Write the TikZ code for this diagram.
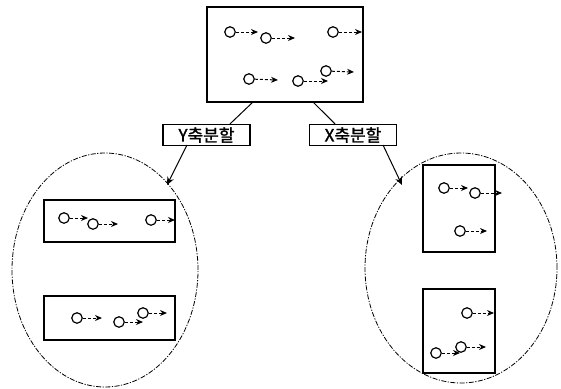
\documentclass[tikz,border=0pt]{standalone}
\usepackage{fontspec}
\newfontfamily\kr[FakeBold=1.5]{Noto Sans CJK KR}
\usetikzlibrary{arrows.meta,shapes.geometric}
\begin{document}
\begin{tikzpicture}[x=1pt,y=-1pt,
  box/.style={draw,line width=1.2pt,inner sep=0pt},
  lbl/.style={draw,line width=1.2pt,inner sep=0pt,minimum width=87pt,minimum height=21pt,font=\kr\fontsize{17}{17}\selectfont},
  obj/.style={circle,draw,line width=1.2pt,minimum size=10.5pt,inner sep=0pt},
  mv/.style={-{Stealth[length=7pt,width=6pt]},dash pattern=on 3pt off 2pt,line width=1pt},
  conn/.style={line width=1pt},
  darr/.style={line width=1pt,-{Stealth[length=8pt,width=7pt]}},
  region/.style={draw,line width=0.8pt,dash pattern=on 5pt off 1.5pt on 1.2pt off 1.5pt}]
\useasboundingbox (0,0) rectangle (561,388);
% top box
\node[box,minimum width=156pt,minimum height=95pt] (top) at (285,54.5) {};
\node[obj] (t1) at (230,32) {}; \coordinate (t1e) at (258,32);
\node[obj] (t2) at (266,38) {}; \coordinate (t2e) at (295,38);
\node[obj] (t3) at (333,32) {}; \coordinate (t3e) at (362,32);
\node[obj] (t4) at (249,79) {}; \coordinate (t4e) at (278,80);
\node[obj] (t5) at (298,81) {}; \coordinate (t5e) at (328,81);
\node[obj] (t6) at (326,71) {}; \coordinate (t6e) at (354,72);
\foreach \i in {1,...,6} \draw[mv] (t\i) -- (t\i e);
% labels
\node[lbl] (ly) at (206.5,135) {Y축분할};
\node[lbl] (lx) at (353,135) {X축분할};
\coordinate (tyo) at (253,102); \coordinate (txo) at (313,102);
\draw[conn] (tyo) -- (ly.north -| 230,0);
\draw[conn] (txo) -- (lx.north -| 335,0);
% ellipses
\node[region,ellipse,minimum width=186pt,minimum height=234pt,inner sep=0pt] (el) at (105,270) {};
\node[region,ellipse,minimum width=192pt,minimum height=230pt,inner sep=0pt] (er) at (461,268) {};
\coordinate (ya) at (187,145); \coordinate (xa) at (383,145);
\coordinate (yt) at (167,185); \coordinate (xt) at (402,185);
\draw[darr] (ya) -- (yt);
\draw[darr] (xa) -- (xt);
% left boxes
\node[box,minimum width=131pt,minimum height=42pt] (lb1) at (109.5,221) {};
\node[box,minimum width=131pt,minimum height=44pt] (lb2) at (109.5,318) {};
\node[obj] (a1) at (64,218) {}; \coordinate (a1e) at (88,218);
\node[obj] (a2) at (93,224) {}; \coordinate (a2e) at (118,224);
\node[obj] (a3) at (151,220) {}; \coordinate (a3e) at (175,220);
\node[obj] (b1) at (77,318) {}; \coordinate (b1e) at (102,318);
\node[obj] (b2) at (119,322) {}; \coordinate (b2e) at (143,322);
\node[obj] (b3) at (143,313) {}; \coordinate (b3e) at (167,313);
\foreach \n in {a1,a2,a3,b1,b2,b3} \draw[mv] (\n) -- (\n e);
% right boxes
\node[box,minimum width=72pt,minimum height=87pt] (rb1) at (459,208.5) {};
\node[box,minimum width=72pt,minimum height=84pt] (rb2) at (459,331) {};
\node[obj] (c1) at (444,188) {}; \coordinate (c1e) at (468,188);
\node[obj] (c2) at (475,193) {}; \coordinate (c2e) at (502,193);
\node[obj] (c3) at (460,231) {}; \coordinate (c3e) at (487,231);
\node[obj] (d1) at (467,313) {}; \coordinate (d1e) at (494,313);
\node[obj] (d2) at (436,353) {}; \coordinate (d2e) at (460,353);
\node[obj] (d3) at (461,347) {}; \coordinate (d3e) at (486,347);
\foreach \n in {c1,c2,c3,d1,d2,d3} \draw[mv] (\n) -- (\n e);
\end{tikzpicture}
\end{document}
